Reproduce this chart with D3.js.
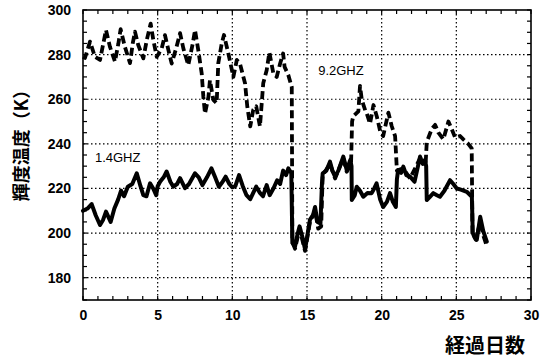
<!DOCTYPE html>
<html>
<head>
<meta charset="utf-8">
<script src="https://cdn.jsdelivr.net/npm/d3@7"></script>
<style>
  body { margin: 0; background: #fff; }
  svg { display: block; }
</style>
</head>
<body>
<div id="chart"></div>
<script>
// 1.4GHz (solid)
const days14 = [0, 0.3, 0.58, 0.85, 1.14, 1.35, 1.54, 1.85, 2.1, 2.35, 2.55, 2.75, 3.0, 3.3, 3.6, 3.85, 4.04, 4.25, 4.49, 4.7, 4.9, 5.0, 5.16, 5.4, 5.6, 5.85, 6.05, 6.3, 6.5, 6.83, 7.1, 7.5, 7.75, 8.0, 8.3, 8.6, 8.85, 9.1, 9.35, 9.55, 9.8, 10.0, 10.2, 10.45, 10.7, 10.95, 11.2, 11.4, 11.6, 11.85, 12.05, 12.3, 12.5, 12.75, 13.0, 13.2, 13.4, 13.6, 13.75, 13.95, 14.02, 14.2, 14.35, 14.5, 14.7, 14.87, 15.05, 15.2, 15.4, 15.54, 15.7, 15.9, 16.0, 16.05, 16.3, 16.54, 16.7, 16.88, 17.1, 17.43, 17.66, 17.9, 17.98, 18.0, 18.2, 18.33, 18.55, 18.77, 19.05, 19.33, 19.5, 19.66, 19.9, 20.1, 20.35, 20.56, 20.75, 20.95, 21.02, 21.1, 21.3, 21.45, 21.65, 21.9, 22.2, 22.4, 22.57, 22.75, 22.9, 22.98, 23.02, 23.2, 23.46, 23.7, 23.9, 24.2, 24.58, 24.8, 25.03, 25.3, 25.7, 26.04, 26.1, 26.2, 26.37, 26.6, 26.8, 27.04];
const temp14 = [210, 211, 213, 208, 203.6, 206, 209.6, 205, 211, 215, 219, 216.5, 220.8, 222, 226.8, 221, 217, 216.5, 222.3, 220, 217, 221, 223, 225, 227.6, 223, 220.8, 222, 224.6, 220.1, 222, 226.8, 225, 221.5, 225, 229, 225, 220.8, 223, 225.3, 222, 220.5, 221, 226, 221, 217, 215.2, 218, 220.8, 218, 216.5, 221.5, 217, 220, 223.7, 222, 228, 226, 229, 226.8, 195.6, 194, 199, 203, 198, 192.7, 200, 206, 208, 211.7, 205, 204.3, 222, 226.8, 228, 232, 228, 225.3, 228, 234.3, 228.3, 232.8, 230, 214.8, 217, 220.8, 219, 216.3, 218, 217.9, 220, 222.3, 215, 211.7, 214, 217.9, 214, 211.7, 224, 228.3, 227, 229.8, 226, 225.3, 223, 229, 234.3, 231, 232.8, 230, 214.8, 216, 217.9, 217, 216.3, 219, 223.7, 222, 220, 219.5, 218.5, 216.3, 200, 198.4, 197, 207.3, 201, 196.2];

// 9.2GHz (dashed)
const days92 = [0, 0.13, 0.47, 0.8, 1.14, 1.36, 1.54, 1.8, 2.14, 2.37, 2.52, 2.8, 3.15, 3.33, 3.48, 3.7, 4.04, 4.27, 4.53, 4.71, 4.94, 5.27, 5.49, 5.72, 5.94, 6.27, 6.5, 6.72, 7.05, 7.35, 7.5, 7.72, 7.95, 8.06, 8.17, 8.4, 8.5, 8.73, 8.95, 9.06, 9.29, 9.44, 9.73, 10.07, 10.3, 10.5, 10.85, 11.0, 11.2, 11.4, 11.6, 11.85, 12.07, 12.3, 12.48, 12.75, 12.97, 13.2, 13.4, 13.5, 13.75, 13.98, 14.02, 14.2, 14.5, 14.87, 15.2, 15.54, 15.75, 15.95, 16.05, 16.54, 16.88, 17.43, 17.66, 17.95, 18.02, 18.1, 18.44, 18.55, 18.67, 18.9, 19.0, 19.22, 19.45, 19.67, 19.9, 20.1, 20.45, 20.67, 20.9, 21.02, 21.45, 21.9, 22.57, 22.95, 23.02, 23.35, 23.58, 23.8, 24.13, 24.47, 24.7, 24.92, 25.25, 25.47, 25.8, 26.03, 26.08, 26.3, 26.6, 26.8, 27.0];
const temp92 = [279, 278.5, 285.8, 279, 277.6, 285, 291, 283.6, 276.9, 285, 291.4, 283.6, 276.2, 285, 290.3, 284.3, 278.3, 286.5, 293.9, 286.5, 279, 282.8, 288.7, 282, 276, 283.6, 289.6, 282.8, 275.3, 285, 291, 282, 271.5, 261, 253.6, 261, 268.5, 259.7, 258.2, 276.2, 285, 288.8, 280.6, 270, 277.6, 276.2, 267.2, 256.8, 247.8, 255.3, 256.8, 247.8, 267.2, 273, 281, 271.5, 270, 276, 280.5, 274.5, 270.8, 265.5, 196, 193, 202, 192, 205, 210, 202, 203, 226, 231, 224.5, 233.5, 227.5, 231, 250, 252.4, 254.6, 266, 259.7, 255, 253.7, 249, 257.4, 252.4, 245.7, 243.5, 254, 248, 243.5, 228, 229, 224.5, 233.5, 232, 240.8, 246.6, 248.5, 245, 242, 250, 246.5, 242.8, 243.5, 242, 240, 238, 200, 197, 205, 199, 195];

const xTicks = [0, 5, 10, 15, 20, 25, 30];
const yTicks = [180, 200, 220, 240, 260, 280, 300];
const seriesNames = ["1.4GHZ", "9.2GHZ"];

const W = 556, H = 364;
const margin = { top: 10, left: 83, bottom: 64, right: 25 };
const width = W - margin.left - margin.right;
const height = H - margin.top - margin.bottom;

const svg = d3.select("#chart").append("svg")
  .attr("width", W).attr("height", H);

const g = svg.append("g").attr("transform", `translate(${margin.left},${margin.top})`);

const x = d3.scaleLinear().domain([0, 30]).range([0, width]);
const y = d3.scaleLinear().domain([170, 300]).range([height, 0]);

// dotted grid
g.append("g")
  .selectAll("line")
  .data(xTicks.filter(d => d > 0 && d < 30))
  .enter().append("line")
  .attr("x1", d => x(d)).attr("x2", d => x(d))
  .attr("y1", 0).attr("y2", height)
  .attr("stroke", "#000").attr("stroke-width", 1.2)
  .attr("stroke-dasharray", "1.5,2.5");

g.append("g")
  .selectAll("line")
  .data(yTicks.filter(d => d < 300))
  .enter().append("line")
  .attr("x1", 0).attr("x2", width)
  .attr("y1", d => y(d)).attr("y2", d => y(d))
  .attr("stroke", "#000").attr("stroke-width", 1.2)
  .attr("stroke-dasharray", "1.5,2.5");

// minor ticks inward on all four sides
const xMinor = d3.range(0, 31, 1);
const yMinor = d3.range(170, 301, 5);
const tickG = g.append("g").attr("stroke", "#000").attr("stroke-width", 1.2);
tickG.selectAll(".tb").data(xMinor).enter().append("line")
  .attr("x1", d => x(d)).attr("x2", d => x(d))
  .attr("y1", height).attr("y2", height - 4);
tickG.selectAll(".tt").data(xMinor).enter().append("line")
  .attr("x1", d => x(d)).attr("x2", d => x(d))
  .attr("y1", 0).attr("y2", 4);
tickG.selectAll(".tl").data(yMinor).enter().append("line")
  .attr("x1", 0).attr("x2", 4)
  .attr("y1", d => y(d)).attr("y2", d => y(d));
tickG.selectAll(".tr").data(yMinor).enter().append("line")
  .attr("x1", width).attr("x2", width - 4)
  .attr("y1", d => y(d)).attr("y2", d => y(d));

// frame
g.append("rect")
  .attr("width", width).attr("height", height)
  .attr("fill", "none").attr("stroke", "#000").attr("stroke-width", 1.6);

// tick labels
g.append("g")
  .attr("transform", `translate(0,${height})`)
  .call(d3.axisBottom(x).tickValues(xTicks).tickSize(0).tickPadding(10))
  .call(a => a.select(".domain").remove())
  .selectAll("text")
  .attr("font-family", "Liberation Sans, Arial, sans-serif")
  .attr("font-weight", "bold")
  .attr("font-size", "14px")
  .attr("fill", "#000");

g.append("g")
  .call(d3.axisLeft(y).tickValues(yTicks).tickSize(0).tickPadding(12))
  .call(a => a.select(".domain").remove())
  .selectAll("text")
  .attr("font-family", "Liberation Sans, Arial, sans-serif")
  .attr("font-weight", "bold")
  .attr("font-size", "14px")
  .attr("fill", "#000");

// lines
const line = (ds, ts) => d3.line()
  .x(i => x(ds[i]))
  .y(i => y(ts[i]))(d3.range(ds.length));

g.append("path")
  .attr("d", line(days92, temp92))
  .attr("fill", "none").attr("stroke", "#000")
  .attr("stroke-width", 3.8)
  .attr("stroke-linejoin", "round")
  .attr("stroke-dasharray", "8,4");

g.append("path")
  .attr("d", line(days14, temp14))
  .attr("fill", "none").attr("stroke", "#000")
  .attr("stroke-width", 4)
  .attr("stroke-linejoin", "round")
  .attr("stroke-linecap", "round");

// series labels
g.append("text")
  .attr("x", x(0.8)).attr("y", y(231.8))
  .attr("font-family", "Liberation Sans, Arial, sans-serif")
  .attr("font-size", "13px")
  .text(seriesNames[0]);

g.append("text")
  .attr("x", x(15.75)).attr("y", y(271))
  .attr("font-family", "Liberation Sans, Arial, sans-serif")
  .attr("font-size", "13px")
  .text(seriesNames[1]);

// axis titles
svg.append("text")
  .attr("transform", `translate(28,141) rotate(-90)`)
  .attr("text-anchor", "middle")
  .attr("font-family", "Noto Sans CJK JP, sans-serif")
  .attr("font-weight", "bold")
  .attr("font-size", "18px")
  .text("輝度温度（K）");

svg.append("text")
  .attr("x", 525).attr("y", 353)
  .attr("text-anchor", "end")
  .attr("font-family", "Noto Sans CJK JP, sans-serif")
  .attr("font-weight", "bold")
  .attr("font-size", "20px")
  .text("経過日数");
</script>
</body>
</html>
